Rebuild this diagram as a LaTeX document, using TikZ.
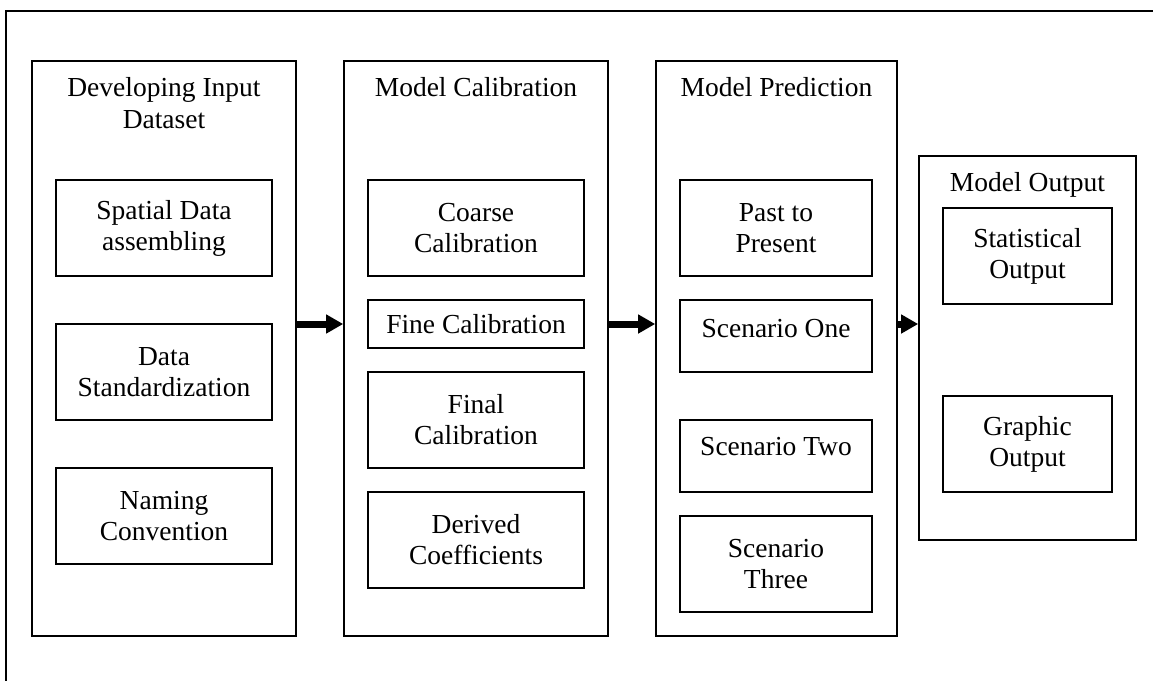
\documentclass[tikz,border=0pt]{standalone}
\usepackage{fontspec}
\setmainfont{Liberation Serif}
\usetikzlibrary{arrows.meta}
\begin{document}
\begin{tikzpicture}[x=1pt,y=-1pt,
  frame/.style={line width=1.6pt},
  panel/.style={draw, line width=1.6pt, inner sep=0pt},
  title/.style={anchor=north, inner sep=0pt, align=center,
    font=\fontsize{27.5}{32}\selectfont},
  stepbox/.style={draw, line width=1.6pt, inner sep=0pt, align=center,
    font=\fontsize{27.5}{31}\selectfont},
  flow/.style={line width=7pt, -{Triangle[length=17pt,width=18pt]}}
]
\useasboundingbox (0,0) rectangle (1153,681);

% open frame: top and left edges only
\draw[frame] (1153,11) -- (6,11) -- (6,681);

% stage panels
\node[panel, minimum width=264pt, minimum height=575pt] (p1) at (164,348.5) {};
\node[panel, minimum width=264pt, minimum height=575pt] (p2) at (476,348.5) {};
\node[panel, minimum width=241pt, minimum height=575pt] (p3) at (776.5,348.5) {};
\node[panel, minimum width=217pt, minimum height=384pt] (p4) at (1027.5,348) {};

% panel titles
\node[title] (t1) at (164,77) {Developing Input\\Dataset};
\node[title] (t2) at (476,77) {Model Calibration};
\node[title] (t3) at (776.5,77) {Model Prediction};
\node[title] (t4) at (1027.5,172) {Model Output};

% input dataset steps
\node[stepbox, minimum width=216pt, minimum height=96pt] (sda) at (164,228) {Spatial Data\\assembling};
\node[stepbox, minimum width=216pt, minimum height=96pt] (std) at (164,372) {Data\\Standardization};
\node[stepbox, minimum width=216pt, minimum height=96pt] (nam) at (164,516) {Naming\\Convention};

% calibration steps
\node[stepbox, minimum width=216pt, minimum height=96pt] (coarse) at (476,228) {Coarse\\Calibration};
\node[stepbox, minimum width=216pt, minimum height=48pt] (fine) at (476,324) {Fine Calibration};
\node[stepbox, minimum width=216pt, minimum height=96pt] (final) at (476,420) {Final\\Calibration};
\node[stepbox, minimum width=216pt, minimum height=96pt] (deriv) at (476,540) {Derived\\Coefficients};

% prediction steps
\node[stepbox, minimum width=192pt, minimum height=96pt] (past) at (776,228) {Past to\\Present};
\node[stepbox, minimum width=192pt, minimum height=72pt, text height=19pt, text depth=17pt] (sc1) at (776,336) {Scenario One};
\node[stepbox, minimum width=192pt, minimum height=72pt, text height=19pt, text depth=21pt] (sc2) at (776,456) {Scenario Two};
\node[stepbox, minimum width=192pt, minimum height=96pt] (sc3) at (776,564) {Scenario\\Three};

% output steps
\node[stepbox, minimum width=169pt, minimum height=96pt] (stat) at (1027.5,256) {Statistical\\Output};
\node[stepbox, minimum width=169pt, minimum height=96pt] (graph) at (1027.5,444) {Graphic\\Output};

% flow between stages
\draw[flow] (p1.east |- fine.center) -- (p2.west |- fine.center);
\draw[flow] (p2.east |- fine.center) -- (p3.west |- fine.center);
\draw[flow] (p3.east |- fine.center) -- (p4.west |- fine.center);
\end{tikzpicture}
\end{document}
